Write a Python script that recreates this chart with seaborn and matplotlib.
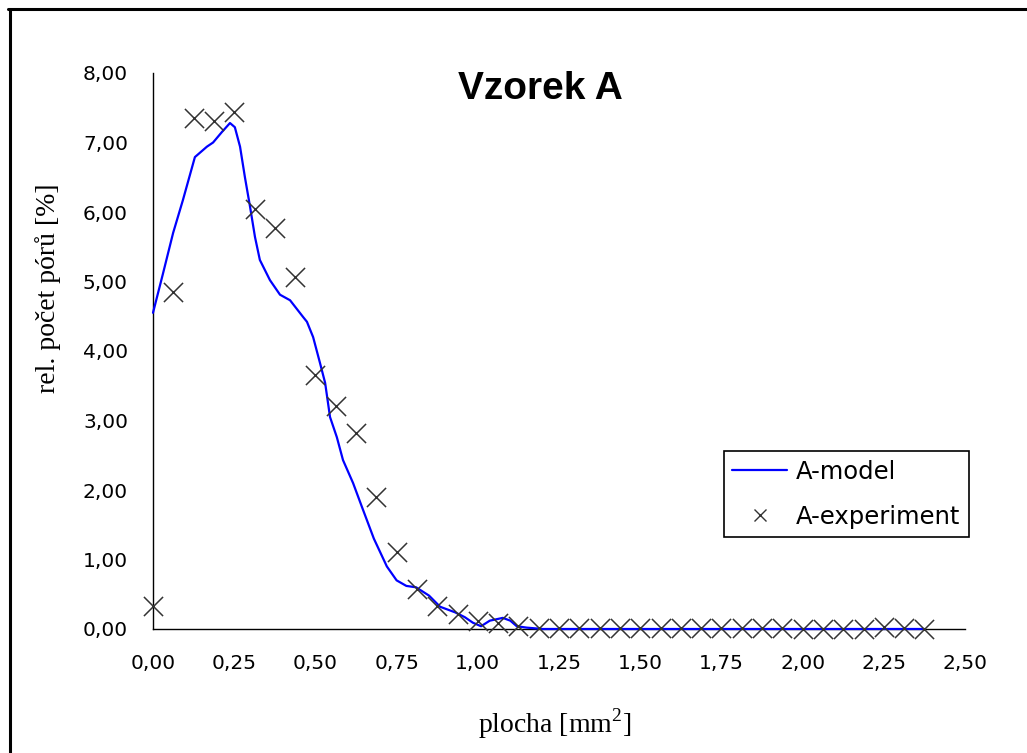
import matplotlib
matplotlib.use("Agg")
import matplotlib.pyplot as plt
from matplotlib.lines import Line2D
import seaborn as sns
import pandas as pd

# data
exp_area = [0.0, 0.0625, 0.125, 0.1875, 0.25, 0.3125, 0.375, 0.4375, 0.5, 0.5625,
            0.625, 0.6875, 0.75, 0.8125, 0.875, 0.9375, 1.0, 1.0625, 1.125, 1.1875,
            1.25, 1.3125, 1.375, 1.4375, 1.5, 1.5625, 1.625, 1.6875, 1.75, 1.8125,
            1.875, 1.9375, 2.0, 2.0625, 2.125, 2.1875, 2.25, 2.3125, 2.375]
exp_pct = [0.33, 4.85, 7.35, 7.31, 7.44, 6.05, 5.77, 5.07, 3.65, 3.21,
           2.82, 1.90, 1.11, 0.57, 0.33, 0.22, 0.12, 0.09, 0.04, 0.02,
           0.01, 0.01, 0.01, 0.02, 0.02, 0.01, 0.01, 0.01, 0.01, 0.01,
           0.01, 0.01, 0.00, 0.00, 0.00, 0.00, 0.03, 0.01, 0.00]

model_area = [0.0, 0.03, 0.062, 0.092, 0.129, 0.166, 0.185, 0.212, 0.237, 0.252,
              0.268, 0.283, 0.299, 0.314, 0.329, 0.36, 0.391, 0.422, 0.462, 0.474,
              0.493, 0.514, 0.53, 0.545, 0.566, 0.585, 0.616, 0.643, 0.68, 0.72,
              0.75, 0.78, 0.81, 0.85, 0.884, 0.93, 0.96, 0.985, 1.01, 1.037,
              1.077, 1.1, 1.12, 1.15, 1.2, 1.5, 2.0, 2.375]
model_pct = [4.55, 5.1, 5.7, 6.17, 6.79, 6.94, 7.0, 7.15, 7.28, 7.22,
             6.94, 6.5, 6.07, 5.64, 5.31, 5.02, 4.81, 4.73, 4.49, 4.42,
             4.2, 3.83, 3.54, 3.05, 2.76, 2.43, 2.1, 1.76, 1.3, 0.9,
             0.7, 0.62, 0.6, 0.48, 0.32, 0.24, 0.17, 0.09, 0.04, 0.12,
             0.16, 0.12, 0.04, 0.02, 0.0, 0.0, 0.0, 0.0]

xticks = [0, 0.25, 0.5, 0.75, 1.0, 1.25, 1.5, 1.75, 2.0, 2.25, 2.5]
yticks = [0, 1, 2, 3, 4, 5, 6, 7, 8]

df_exp = pd.DataFrame({"plocha": exp_area, "pocet": exp_pct})
df_mod = pd.DataFrame({"plocha": model_area, "pocet": model_pct})

sns.set_style("white")
plt.rcParams["font.family"] = ["DejaVu Sans"]
plt.rcParams["text.color"] = "black"
plt.rcParams["axes.labelcolor"] = "black"
plt.rcParams["xtick.color"] = "black"
plt.rcParams["ytick.color"] = "black"
plt.rcParams["mathtext.fontset"] = "custom"
plt.rcParams["mathtext.rm"] = "Liberation Serif"

fig = plt.figure(figsize=(10.27, 7.53), dpi=100)
ax = fig.add_axes([153 / 1027, 1 - 629 / 753, 812 / 1027, 556 / 753])

sns.lineplot(data=df_mod, x="plocha", y="pocet", color="#0000ff", linewidth=1.6,
             ax=ax, clip_on=False, zorder=4)
sns.scatterplot(data=df_exp, x="plocha", y="pocet", marker="x", color="#333333",
                s=190, linewidth=1.1, ax=ax, clip_on=False, zorder=5)

ax.set_xlim(0, 2.5)
ax.set_ylim(0, 8)
ax.set_xticks(xticks)
ax.set_yticks(yticks)
ax.set_xticklabels([f"{v:.2f}".replace(".", ",") for v in xticks], fontsize=14.5)
ax.set_yticklabels([f"{v:.2f}".replace(".", ",") for v in yticks], fontsize=14.5)
ax.tick_params(direction="out", length=6, width=1, color="black")
ax.tick_params(axis="x", pad=12)
ax.tick_params(axis="y", pad=12)

sns.despine(ax=ax)
for s in ["left", "bottom"]:
    ax.spines[s].set_color("black")
    ax.spines[s].set_linewidth(1)

ax.set_xlabel(r"plocha [mm$^{\mathrm{2}}$]", family="Liberation Serif", fontsize=20,
              va="center")
ax.set_ylabel("rel. počet pórů [%]", family="Liberation Serif", fontsize=20, va="center")
ax.xaxis.set_label_coords(0.495, -0.17)
ax.yaxis.set_label_coords(-0.129, 0.613)

fig.text(540 / 1027, 1 - 89 / 753, "Vzorek A", ha="center", va="center",
         fontsize=28, fontweight="bold", family="Liberation Sans", color="black")

handles = [Line2D([], [], color="#0000ff", linewidth=1.6),
           Line2D([], [], linestyle="none", marker="x", color="#333333",
                  markersize=9, markeredgewidth=1)]
leg = ax.legend(handles, ["A-model", "A-experiment"], loc="upper right",
                bbox_to_anchor=(969 / 1027, 1 - 451 / 753),
                bbox_transform=fig.transFigure, borderaxespad=0,
                fontsize=17.5, frameon=True, fancybox=False, framealpha=1,
                handlelength=2.26, handletextpad=0.37, labelspacing=0.88,
                borderpad=0.35)
leg.get_frame().set_edgecolor("black")
leg.get_frame().set_linewidth(1.2)

# outer chart border (only left and top visible in the reference)
fig.add_artist(Line2D([9.5 / 1027, 9.5 / 1027], [0, 1 - 8.5 / 753],
                      transform=fig.transFigure, color="black", linewidth=2.2))
fig.add_artist(Line2D([8 / 1027, 1], [1 - 8.5 / 753, 1 - 8.5 / 753],
                      transform=fig.transFigure, color="black", linewidth=2.2))

fig.savefig("out.png", dpi=100, facecolor="white")
